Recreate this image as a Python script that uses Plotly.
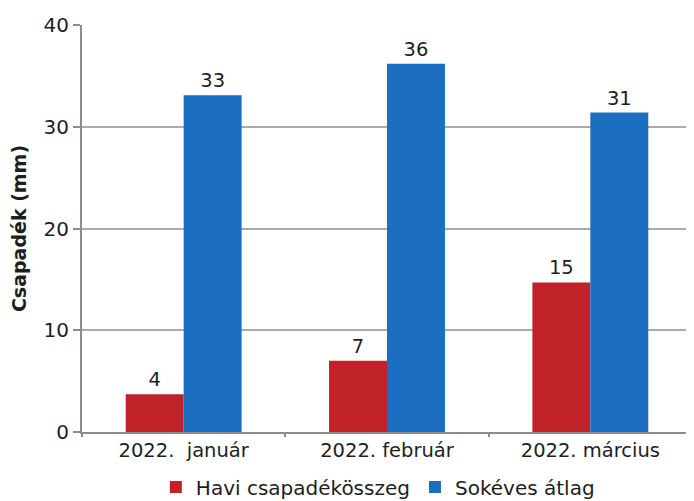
import plotly.graph_objects as go

honapok = ["2022.\u00a0\u00a0január", "2022. február", "2022. március"]
havi_osszeg = [3.7, 7.0, 14.7]
sokeves_atlag = [33.1, 36.2, 31.4]

PIROS = "#c1222a"
KEK = "#1b6ec0"
SZURKE = "#8c8c8c"

fig = go.Figure()
fig.add_trace(go.Bar(
    x=honapok, y=havi_osszeg, name="Havi csapadékösszeg",
    marker=dict(color=PIROS, line=dict(width=0)),
    texttemplate="%{y:.0f}", textposition="outside", constraintext="none",
    cliponaxis=False, textfont=dict(size=19.5),
))
fig.add_trace(go.Bar(
    x=honapok, y=sokeves_atlag, name="Sokéves átlag",
    marker=dict(color=KEK, line=dict(width=0)),
    texttemplate="%{y:.0f}", textposition="outside", constraintext="none",
    cliponaxis=False, textfont=dict(size=19.5),
))

# the page body has an 8px margin, so the figure is a bit smaller than the window
fig.update_layout(
    width=686, height=493,
    barmode="group", bargap=0.43, bargroupgap=0,
    paper_bgcolor="white", plot_bgcolor="white",
    font=dict(family="DejaVu Sans", size=19.5, color="#1e1e1e"),
    margin=dict(l=74, r=2, t=17, b=69, autoexpand=False),
    showlegend=True,
    legend=dict(
        orientation="h", x=0.485, xanchor="center", y=-0.135, yanchor="middle",
        font=dict(size=20), itemwidth=30, traceorder="normal",
    ),
    xaxis=dict(
        range=[-0.5, 2.5], showline=True, linecolor=SZURKE, linewidth=2,
        ticks="outside", tickson="boundaries", ticklen=3, tickcolor=SZURKE,
        tickwidth=2, showgrid=False, automargin=False,
        tickfont=dict(size=19.5),
    ),
    yaxis=dict(
        range=[0, 40], tickvals=[0, 10, 20, 30, 40], showline=True,
        linecolor=SZURKE, linewidth=2, ticks="outside", ticklen=7,
        tickcolor=SZURKE, tickwidth=2, showgrid=True, gridcolor="#ababab",
        gridwidth=1.5, zeroline=False, automargin=False,
        tickfont=dict(size=20),
        title=dict(text="<b>Csapadék (mm)</b>", standoff=12, font=dict(size=19)),
    ),
)

fig.write_html("out.html")
